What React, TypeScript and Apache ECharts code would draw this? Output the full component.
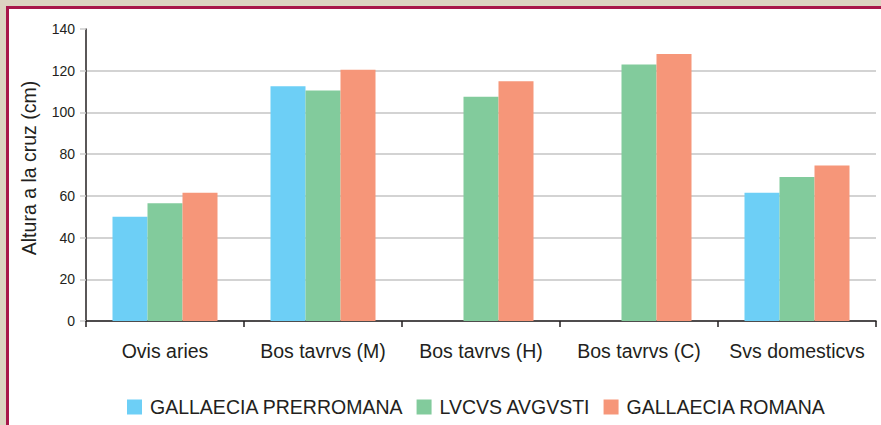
import React, { useEffect, useRef } from "react";
import * as echarts from "echarts";

const categories = ["Ovis aries", "Bos tavrvs (M)", "Bos tavrvs (H)", "Bos tavrvs (C)", "Svs domesticvs"];
const seriesNames = ["GALLAECIA PRERROMANA", "LVCVS AVGVSTI", "GALLAECIA ROMANA"];
const prerromana: (number | null)[] = [50, 112.5, null, null, 61.5];
const lvcvs: (number | null)[] = [56.5, 110.5, 107.5, 123, 69];
const romana: (number | null)[] = [61.5, 120.5, 115, 128, 74.5];
const yTicks = [0, 20, 40, 60, 80, 100, 120, 140];
const yAxisTitle = "Altura a la cruz (cm)";
const colors = ["#6dcff6", "#82cb9c", "#f69679"];

export default function App() {
  const ref = useRef<HTMLDivElement>(null);
  useEffect(() => {
    document.body.style.margin = "0";
    const chart = echarts.init(ref.current!, null, { renderer: "svg" });
    const font = "'Liberation Sans', Arial, sans-serif";
    const dataSets = [prerromana, lvcvs, romana];
    chart.setOption({
      animation: false,
      textStyle: { fontFamily: font },
      grid: { left: 86, right: 5, top: 29, bottom: 104 },
      graphic: [
        {
          type: "text",
          x: 29,
          y: 168,
          rotation: Math.PI / 2,
          style: {
            text: yAxisTitle,
            fontSize: 19.5,
            fontFamily: font,
            fill: "#231f20",
            align: "center",
            verticalAlign: "middle",
          },
        },
      ],
      legend: {
        left: 122,
        top: 392,
        itemWidth: 15,
        itemHeight: 15,
        itemGap: 13,
        icon: "rect",
        textStyle: { fontSize: 19.5, color: "#231f20", fontFamily: font, padding: [0, 0, 0, 3] },
        data: seriesNames,
      },
      xAxis: {
        type: "category",
        data: categories,
        axisLine: { lineStyle: { color: "#231f20", width: 1.5 } },
        axisTick: { show: true, interval: 0, length: 6, lineStyle: { color: "#231f20", width: 1.5 } },
        axisLabel: { interval: 0, fontSize: 19.5, color: "#231f20", margin: 20, fontFamily: font },
      },
      yAxis: {
        type: "value",
        min: yTicks[0],
        max: yTicks[yTicks.length - 1],
        interval: 20,
        axisLine: { show: true, lineStyle: { color: "#231f20", width: 1.5 } },
        axisTick: { show: true, length: 6, lineStyle: { color: "#cccccc", width: 1.5 } },
        axisLabel: { fontSize: 14, color: "#231f20", margin: 11, fontFamily: font },
        splitLine: {
          show: true,
          lineStyle: {
            color: yTicks.map((_, i) => (i === yTicks.length - 1 ? "rgba(0,0,0,0)" : "#d3d3d3")),
            width: 2,
          },
        },
      },
      series: seriesNames.map((name, i) => ({
        name,
        type: "bar",
        data: dataSets[i],
        barWidth: 35,
        barGap: "0%",
        itemStyle: { color: colors[i] },
      })),
    });
    return () => chart.dispose();
  }, []);
  return (
    <div style={{ position: "relative", width: 881, height: 425, background: "#dcd4c1", overflow: "hidden" }}>
      <div
        style={{
          position: "absolute",
          left: 6,
          top: 6,
          width: 875,
          height: 419,
          boxSizing: "border-box",
          borderLeft: "3px solid #a8174a",
          borderTop: "3px solid #a8174a",
          background: "#ffffff",
        }}
      />
      <div ref={ref} style={{ position: "absolute", left: 0, top: 0, width: 881, height: 425 }} />
    </div>
  );
}
